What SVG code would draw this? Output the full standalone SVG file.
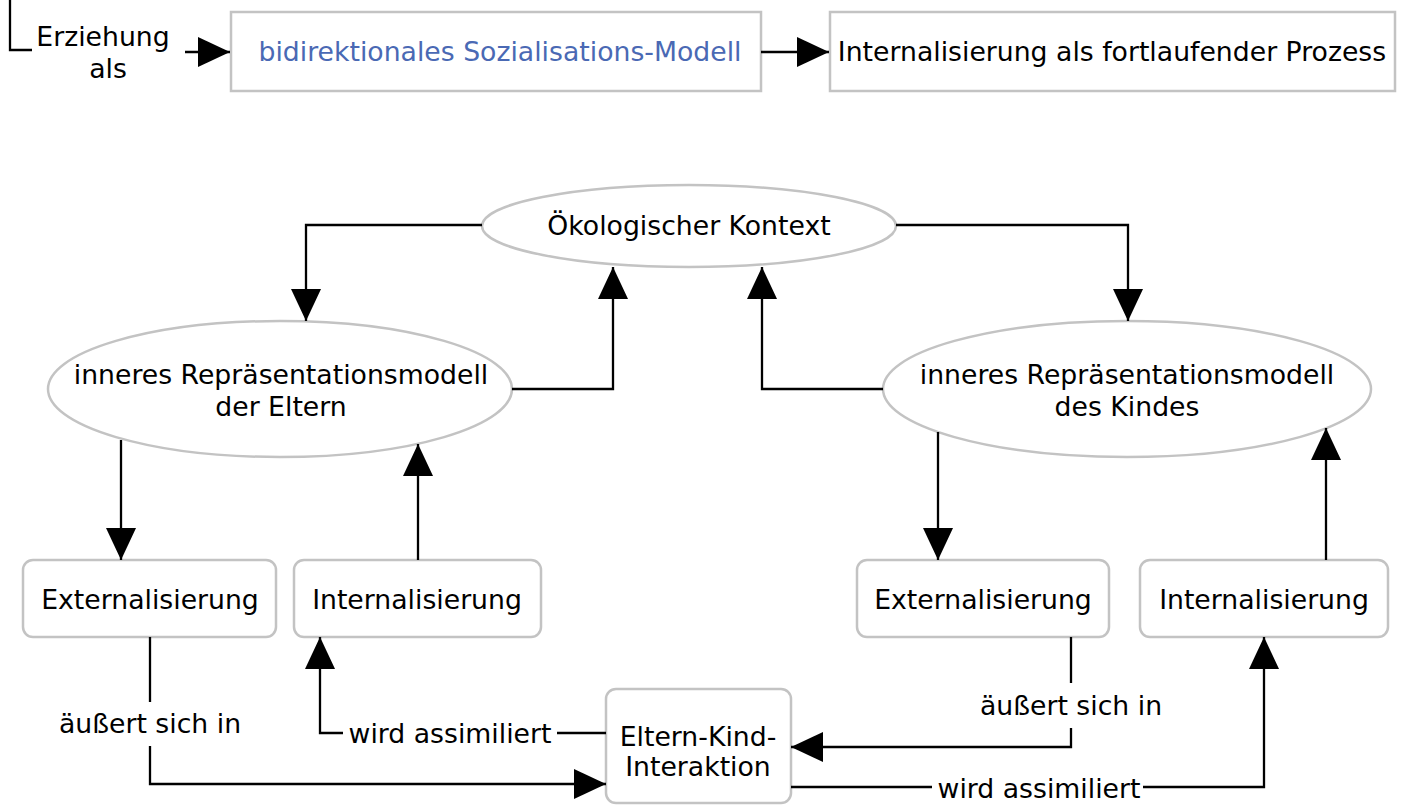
<svg xmlns="http://www.w3.org/2000/svg" width="1407" height="806" viewBox="0 0 1407 806">
  <style>
    text { font-family: "DejaVu Sans", Verdana, sans-serif; font-size: 26.7px; fill: #000; text-anchor: middle; }
    .blue { fill: #4a69b4; }
    .box { fill: #fff; stroke: #c3c3c3; stroke-width: 2.5; }
    .node { fill: #fff; stroke: #c3c3c3; stroke-width: 2.5; }
    .edge { fill: none; stroke: #000; stroke-width: 2.3; }
    .arr { marker-end: url(#head); }
  </style>
  <defs>
    <marker id="head" markerUnits="userSpaceOnUse" markerWidth="32" markerHeight="32" refX="32" refY="15" orient="auto" viewBox="0 0 32 30">
      <path d="M0,0 L32,15 L0,30 Z" fill="#000"/>
    </marker>
  </defs>

  <!-- header row -->
  <g id="header">
    <path class="edge" d="M10,0 V50 H32"/>
    <text x="103" y="46">Erziehung</text>
    <text x="108" y="78">als</text>
  </g>
  <g id="bidirektional">
    <rect class="box" x="231" y="12" width="530" height="79"/>
    <text class="blue" x="500" y="61">bidirektionales Sozialisations-Modell</text>
  </g>
  <g id="internalisierung-prozess">
    <rect class="box" x="830" y="12" width="565" height="79"/>
    <text x="1112" y="61">Internalisierung als fortlaufender Prozess</text>
  </g>

  <!-- cycle nodes -->
  <g id="kontext">
    <ellipse class="node" cx="689" cy="226" rx="207" ry="41"/>
    <text x="689" y="235">Ökologischer Kontext</text>
  </g>
  <g id="modell-eltern">
    <ellipse class="node" cx="280" cy="389" rx="232" ry="68"/>
    <text x="281" y="384">inneres Repräsentationsmodell</text>
    <text x="281" y="416">der Eltern</text>
  </g>
  <g id="modell-kind">
    <ellipse class="node" cx="1127" cy="389" rx="244" ry="68"/>
    <text x="1127" y="384">inneres Repräsentationsmodell</text>
    <text x="1127" y="416">des Kindes</text>
  </g>
  <g id="ext-eltern">
    <rect class="node" x="23" y="560" width="253" height="77" rx="10"/>
    <text x="150" y="609">Externalisierung</text>
  </g>
  <g id="int-eltern">
    <rect class="node" x="294" y="560" width="247" height="77" rx="10"/>
    <text x="417" y="609">Internalisierung</text>
  </g>
  <g id="ext-kind">
    <rect class="node" x="857" y="560" width="252" height="77" rx="10"/>
    <text x="983" y="609">Externalisierung</text>
  </g>
  <g id="int-kind">
    <rect class="node" x="1140" y="560" width="248" height="77" rx="10"/>
    <text x="1264" y="609">Internalisierung</text>
  </g>
  <g id="interaktion">
    <rect class="node" x="606" y="689" width="185" height="114" rx="10"/>
    <text x="698" y="746">Eltern-Kind-</text>
    <text x="698" y="776">Interaktion</text>
  </g>

  <!-- connectors -->
  <g id="connectors">
    <path class="edge arr" d="M185,52 H230"/>
    <path class="edge arr" d="M761,52 H829"/>

    <path class="edge arr" d="M482,225 H306 V321"/>
    <path class="edge arr" d="M896,225 H1128 V321"/>
    <path class="edge arr" d="M512,389 H613 V267"/>
    <path class="edge arr" d="M883,389 H762 V267"/>

    <path class="edge arr" d="M121,440 V560"/>
    <path class="edge arr" d="M418,560 V444"/>
    <path class="edge arr" d="M938,432 V560"/>
    <path class="edge arr" d="M1326,560 V428"/>

    <path class="edge" d="M150,637 V702"/>
    <path class="edge arr" d="M150,746 V784 H606"/>
    <text x="150" y="733">äußert sich in</text>

    <path class="edge" d="M606,733 H557"/>
    <path class="edge arr" d="M343,733 H320 V637"/>
    <text x="450" y="743">wird assimiliert</text>

    <path class="edge" d="M1071,637 V683"/>
    <path class="edge arr" d="M1071,728 V747 H791"/>
    <text x="1071" y="715">äußert sich in</text>

    <path class="edge" d="M791,787 H932"/>
    <path class="edge arr" d="M1143,787 H1264 V637"/>
    <text x="1039" y="798">wird assimiliert</text>
  </g>
</svg>
